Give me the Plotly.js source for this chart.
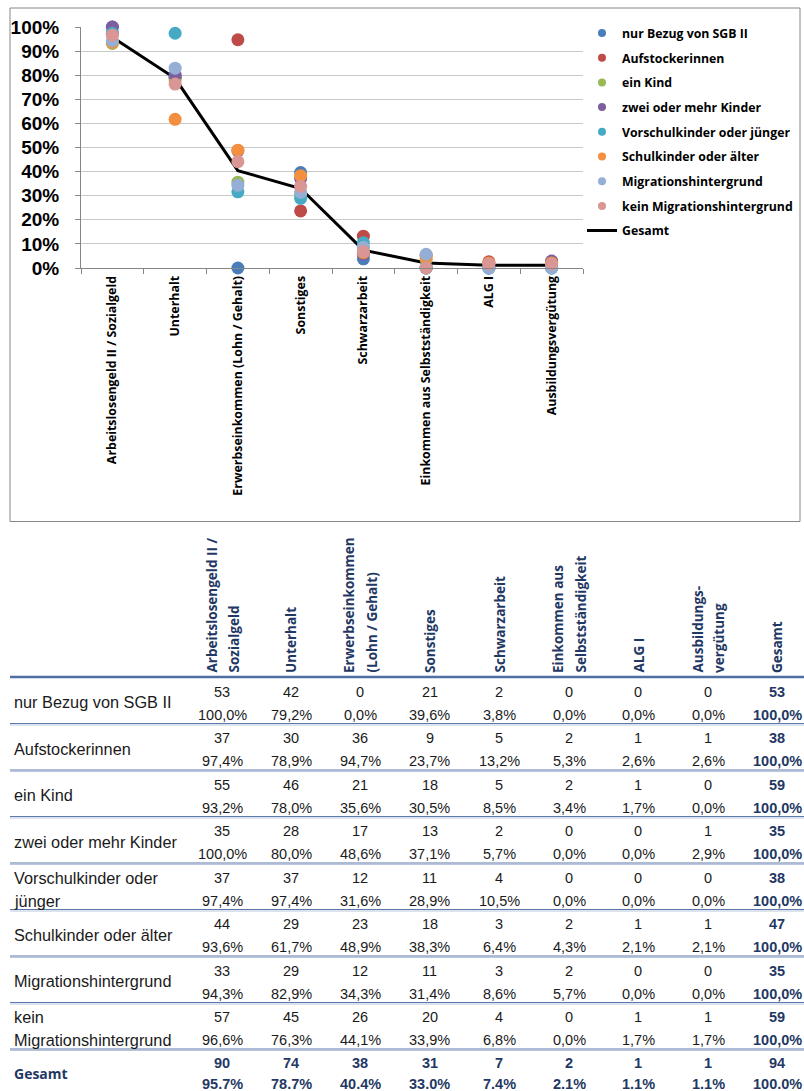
<!DOCTYPE html>
<html>
<head>
<meta charset="utf-8">
<script src="https://cdn.plot.ly/plotly-3.0.1.min.js"></script>
<style>html,body{margin:0;padding:0;background:#fff;}#chart{width:804px;height:1091px;}</style>
</head>
<body>
<div id="chart"></div>
<script>
// ---- data ----
const categories = ['Arbeitslosengeld II / Sozialgeld','Unterhalt','Erwerbseinkommen (Lohn / Gehalt)','Sonstiges','Schwarzarbeit','Einkommen aus Selbstständigkeit','ALG I','Ausbildungsvergütung'];
const tableHeaders = [['Arbeitslosengeld II /','Sozialgeld'],['Unterhalt'],['Erwerbseinkommen','(Lohn / Gehalt)'],['Sonstiges'],['Schwarzarbeit'],['Einkommen aus','Selbstständigkeit'],['ALG I'],['Ausbildungs-','vergütung'],['Gesamt']];
const seriesNames = ['nur Bezug von SGB II','Aufstockerinnen','ein Kind','zwei oder mehr Kinder','Vorschulkinder oder jünger','Schulkinder oder älter','Migrationshintergrund','kein Migrationshintergrund'];
const rowLabels = [['nur Bezug von SGB II'],['Aufstockerinnen'],['ein Kind'],['zwei oder mehr Kinder'],['Vorschulkinder oder','jünger'],['Schulkinder oder älter'],['Migrationshintergrund'],['kein','Migrationshintergrund']];
const seriesColors = ['#4A7EBB','#BE4B48','#98B954','#7D5FA0','#46AAC5','#F38F3F','#94AED5','#D99694'];

const countsNurSGB   = [53,42,0,21,2,0,0,0,53];
const countsAufst    = [37,30,36,9,5,2,1,1,38];
const countsEinKind  = [55,46,21,18,5,2,1,0,59];
const countsZwei     = [35,28,17,13,2,0,0,1,35];
const countsVorsch   = [37,37,12,11,4,0,0,0,38];
const countsSchul    = [44,29,23,18,3,2,1,1,47];
const countsMigr     = [33,29,12,11,3,2,0,0,35];
const countsKeinMigr = [57,45,26,20,4,0,1,1,59];
const countsGesamt   = [90,74,38,31,7,2,1,1,94];

const pctNurSGB   = [100.0,79.2,0.0,39.6,3.8,0.0,0.0,0.0,100.0];
const pctAufst    = [97.4,78.9,94.7,23.7,13.2,5.3,2.6,2.6,100.0];
const pctEinKind  = [93.2,78.0,35.6,30.5,8.5,3.4,1.7,0.0,100.0];
const pctZwei     = [100.0,80.0,48.6,37.1,5.7,0.0,0.0,2.9,100.0];
const pctVorsch   = [97.4,97.4,31.6,28.9,10.5,0.0,0.0,0.0,100.0];
const pctSchul    = [93.6,61.7,48.9,38.3,6.4,4.3,2.1,2.1,100.0];
const pctMigr     = [94.3,82.9,34.3,31.4,8.6,5.7,0.0,0.0,100.0];
const pctKeinMigr = [96.6,76.3,44.1,33.9,6.8,0.0,1.7,1.7,100.0];
const pctGesamt   = [95.7,78.7,40.4,33.0,7.4,2.1,1.1,1.1,100.0];

const groupCounts = [countsNurSGB,countsAufst,countsEinKind,countsZwei,countsVorsch,countsSchul,countsMigr,countsKeinMigr];
const groupPcts = [pctNurSGB,pctAufst,pctEinKind,pctZwei,pctVorsch,pctSchul,pctMigr,pctKeinMigr];

// ---- layout helpers (pixel -> paper) ----
const W = 804, H = 1091;
const px = v => v / W;
const py = v => 1 - v / H;

const traces = [];
// Gesamt line (below markers)
traces.push({
  x: categories, y: pctGesamt.slice(0,8).map(v => v/100),
  type: 'scatter', mode: 'lines', line: {color: '#000000', width: 3},
  showlegend: false, hoverinfo: 'skip', cliponaxis: false
});
// Marker series
groupPcts.forEach((p, i) => {
  traces.push({
    x: categories, y: p.slice(0,8).map(v => v/100),
    type: 'scatter', mode: 'markers', name: seriesNames[i],
    marker: {color: seriesColors[i], size: 13},
    showlegend: false, cliponaxis: false
  });
});
// Legend entries (small symbols)
seriesNames.forEach((n, i) => {
  traces.push({
    x: [null], y: [null], type: 'scatter', mode: 'markers', name: n,
    marker: {color: seriesColors[i], size: 8}, legendgroup: 'g' + i, showlegend: true
  });
});
traces.push({x: [null], y: [null], type: 'scatter', mode: 'lines', name: 'Gesamt',
  line: {color: '#000000', width: 3}, legendgroup: 'g9', showlegend: true});

const annotations = [];
const shapes = [];

// Chart border
shapes.push({type: 'rect', xref: 'paper', yref: 'paper', x0: px(10), x1: px(800), y0: py(8), y1: py(521.5),
  line: {color: '#868686', width: 1}, fillcolor: 'rgba(0,0,0,0)', layer: 'below'});

// ---- table ----
const colX = [222, 291, 360, 430, 499, 569, 638, 708, 777];
const headerLineY = 677;
const rowH = 46.5;
const navy = '#1F3864';
const headFont = {family: 'Open Sans', size: 13.5, color: navy, weight: 700};
const bodyFont = {family: 'Liberation Sans', size: 14.5, color: '#1a1a1a'};
const bodyBold = {family: 'Liberation Sans', size: 14.5, color: navy, weight: 700};
const labelFont = {family: 'Liberation Sans', size: 16.3, color: '#1a1a1a'};

// headers
tableHeaders.forEach((h, c) => {
  const n = h.length;
  h.forEach((line, k) => {
    const off = n === 1 ? 0 : (k === 0 ? -11 : 11);
    annotations.push({xref: 'paper', yref: 'paper', x: px(colX[c] + off), y: py(674),
      xanchor: 'center', yanchor: 'bottom', textangle: -90, showarrow: false,
      text: line, font: headFont, borderpad: 0});
  });
});
shapes.push({type: 'line', xref: 'paper', yref: 'paper', x0: px(10), x1: px(804), y0: py(headerLineY), y1: py(headerLineY),
  line: {color: '#4F6FA3', width: 2.5}});

const fmtComma = v => v.toFixed(1).replace('.', ',') + '%';
const fmtDot = v => v.toFixed(1) + '%';

groupCounts.forEach((cnts, r) => {
  const top = headerLineY + rowH * r;
  const yNum = top + 14.5, yPct = top + 37.5;
  // row label
  const lab = rowLabels[r];
  if (lab.length === 1) {
    annotations.push({xref: 'paper', yref: 'paper', x: px(12), y: py(top + 25), xanchor: 'left', yanchor: 'middle',
      showarrow: false, text: lab[0], font: labelFont});
  } else {
    annotations.push({xref: 'paper', yref: 'paper', x: px(12), y: py(yNum), xanchor: 'left', yanchor: 'middle',
      showarrow: false, text: lab[0], font: labelFont});
    annotations.push({xref: 'paper', yref: 'paper', x: px(12), y: py(yPct), xanchor: 'left', yanchor: 'middle',
      showarrow: false, text: lab[1], font: labelFont});
  }
  cnts.forEach((v, c) => {
    const f = c === 8 ? bodyBold : bodyFont;
    annotations.push({xref: 'paper', yref: 'paper', x: px(colX[c]), y: py(yNum), xanchor: 'center', yanchor: 'middle',
      showarrow: false, text: String(v), font: f});
    annotations.push({xref: 'paper', yref: 'paper', x: px(colX[c]), y: py(yPct), xanchor: 'center', yanchor: 'middle',
      showarrow: false, text: fmtComma(groupPcts[r][c]), font: f});
  });
  const ly = top + rowH;
  shapes.push({type: 'line', xref: 'paper', yref: 'paper', x0: px(10), x1: px(804), y0: py(ly), y1: py(ly),
    line: {color: '#5A78A8', width: 1}});
  shapes.push({type: 'line', xref: 'paper', yref: 'paper', x0: px(10), x1: px(804), y0: py(ly + 1.5), y1: py(ly + 1.5),
    line: {color: '#B9C7DE', width: 1.2}});
});

// Gesamt row
{
  const top = headerLineY + rowH * 8;
  const yNum = top + 14, yPct = top + 35;
  annotations.push({xref: 'paper', yref: 'paper', x: px(12), y: py(top + 24), xanchor: 'left', yanchor: 'middle',
    showarrow: false, text: 'Gesamt', font: {family: 'Open Sans', size: 14, color: navy, weight: 700}});
  countsGesamt.forEach((v, c) => {
    annotations.push({xref: 'paper', yref: 'paper', x: px(colX[c]), y: py(yNum), xanchor: 'center', yanchor: 'middle',
      showarrow: false, text: String(v), font: bodyBold});
    annotations.push({xref: 'paper', yref: 'paper', x: px(colX[c]), y: py(yPct), xanchor: 'center', yanchor: 'middle',
      showarrow: false, text: fmtDot(pctGesamt[c]), font: bodyBold, borderpad: 0});
  });
}

const layout = {
  width: W, height: H,
  margin: {l: 0, r: 0, t: 0, b: 0},
  paper_bgcolor: '#ffffff', plot_bgcolor: '#ffffff',
  showlegend: true,
  xaxis: {
    domain: [px(81), px(583)], type: 'category', range: [-0.5, 7.5],
    tickson: 'boundaries', ticks: 'outside', ticklen: 5, tickcolor: '#868686',
    showline: true, linecolor: '#868686', linewidth: 1, showgrid: false, zeroline: false,
    tickangle: -90, tickfont: {family: 'Open Sans', size: 12.4, color: '#000000', weight: 700},
    ticklabelstandoff: 2, fixedrange: true
  },
  yaxis: {
    domain: [py(268), py(27)], range: [0, 1],
    tickvals: [0,0.1,0.2,0.3,0.4,0.5,0.6,0.7,0.8,0.9,1], tickformat: '.0%',
    showgrid: true, gridcolor: '#C9C9C9', gridwidth: 1,
    showline: true, linecolor: '#868686', linewidth: 1, zeroline: false,
    ticks: 'outside', ticklen: 5, tickcolor: '#868686',
    tickfont: {family: 'Liberation Sans', size: 19, color: '#000000', weight: 700},
    ticklabelstandoff: 12, fixedrange: true
  },
  legend: {
    x: px(582), y: py(18.5), xanchor: 'left', yanchor: 'top',
    font: {family: 'Open Sans', size: 12.3, color: '#000000', weight: 700},
    bgcolor: 'rgba(0,0,0,0)', tracegroupgap: 5.7, traceorder: 'grouped', itemwidth: 30
  },
  annotations: annotations,
  shapes: shapes
};

Plotly.newPlot('chart', traces, layout, {displayModeBar: false, staticPlot: true});
</script>
</body>
</html>
